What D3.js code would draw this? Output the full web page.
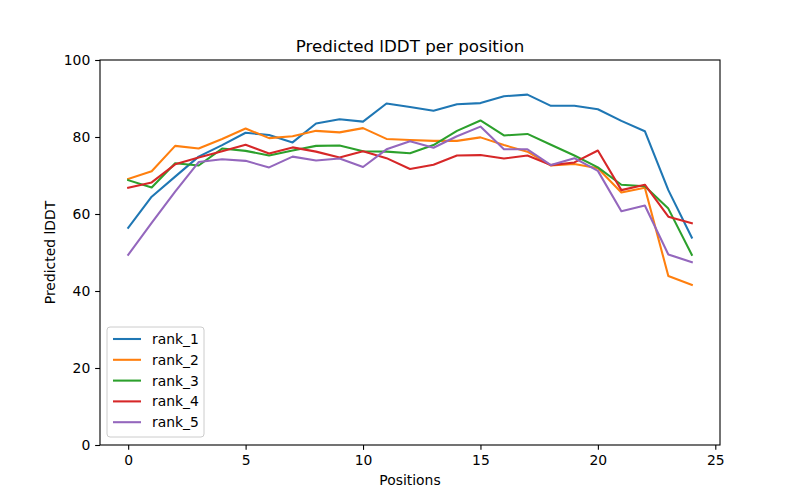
<!DOCTYPE html>
<html>
<head>
<meta charset="utf-8">
<script src="https://cdn.jsdelivr.net/npm/d3@7"></script>
<style>
 body{margin:0;background:#fff;}
 svg{font-family:"DejaVu Sans",sans-serif;}
</style>
</head>
<body>
<svg id="chart" width="800" height="500"></svg>
<script>
// ================= DATA =================
const positions=d3.range(0,25);
const seriesNames=["rank_1","rank_2","rank_3","rank_4","rank_5"];
const rank_1=[56.4,64.5,69.7,74.9,77.9,81.1,80.5,78.6,83.5,84.6,84.0,88.7,87.8,86.8,88.5,88.8,90.6,91.0,88.1,88.1,87.2,84.2,81.5,66.2,53.9];
const rank_2=[69.1,71.1,77.7,77.0,79.5,82.2,79.7,80.2,81.6,81.2,82.3,79.5,79.2,79.0,79.0,79.9,77.9,76.2,72.6,73.0,71.9,65.6,66.8,43.9,41.6];
const rank_3=[68.8,66.9,73.2,72.6,77.0,76.4,75.2,76.5,77.7,77.8,76.3,76.2,75.8,77.9,81.6,84.3,80.4,80.8,78.0,75.2,72.1,67.6,67.2,61.4,49.4];
const rank_4=[66.8,68.2,72.9,74.7,76.3,78.0,75.7,77.3,76.2,74.7,76.3,74.5,71.7,72.8,75.2,75.3,74.4,75.2,72.7,73.4,76.5,66.2,67.6,59.3,57.6];
const rank_5=[49.4,57.7,65.8,73.5,74.2,73.8,72.1,74.9,73.9,74.4,72.2,76.8,78.9,77.2,80.2,82.7,76.8,76.8,72.7,74.5,71.2,60.7,62.2,49.5,47.5];
const xTicks=[0,5,10,15,20,25];
const yTicks=[0,20,40,60,80,100];
const colors=["#1f77b4","#ff7f0e","#2ca02c","#d62728","#9467bd"];

// ================= CHART =================
const svg=d3.select("#chart");
const L=100,R=720,T=60,B=445;

const x=d3.scaleLinear().domain([-1.2,25.2]).range([L,R]);
const y=d3.scaleLinear().domain([0,100]).range([B,T]);

const all=[rank_1,rank_2,rank_3,rank_4,rank_5];
const line=d3.line().x((d,i)=>x(positions[i])).y(d=>y(d));

svg.selectAll("path.series")
 .data(all).enter().append("path")
 .attr("class","series")
 .attr("d",line)
 .attr("fill","none")
 .attr("stroke",(d,i)=>colors[i])
 .attr("stroke-width",2.08)
 .attr("stroke-linejoin","round")
 .attr("stroke-linecap","square");

// axes
const xAxis=svg.append("g").attr("transform",`translate(0,${B})`)
 .call(d3.axisBottom(x).tickValues(xTicks).tickSize(4.86).tickPadding(4.86).tickSizeOuter(0));
const yAxis=svg.append("g").attr("transform",`translate(${L},0)`)
 .call(d3.axisLeft(y).tickValues(yTicks).tickSize(4.86).tickPadding(4.86).tickSizeOuter(0));
[xAxis,yAxis].forEach(g=>{
 g.select(".domain").remove();
 g.selectAll("text").attr("font-family","DejaVu Sans").attr("font-size","13.9px").attr("fill","#000");
 g.selectAll("line").attr("stroke","#000").attr("stroke-width",1.1);
});

// frame
svg.append("rect").attr("x",L).attr("y",T).attr("width",R-L).attr("height",B-T)
 .attr("fill","none").attr("stroke","#000").attr("stroke-width",1.1);

// labels
svg.append("text").attr("x",(L+R)/2).attr("y",52).attr("text-anchor","middle")
 .attr("font-size","16.7px").text("Predicted lDDT per position");
svg.append("text").attr("x",(L+R)/2).attr("y",485).attr("text-anchor","middle")
 .attr("font-size","13.9px").text("Positions");
svg.append("text").attr("transform",`translate(55,${(T+B)/2}) rotate(-90)`).attr("text-anchor","middle")
 .attr("font-size","13.9px").text("Predicted lDDT");

// legend
const lg=svg.append("g").attr("transform","translate(107,327)");
lg.append("rect").attr("x",0).attr("y",0).attr("width",97).attr("height",110)
 .attr("rx",3).attr("fill","#fff").attr("fill-opacity",0.8).attr("stroke","#ccc");
const items=lg.selectAll("g.item").data(seriesNames).enter().append("g")
 .attr("transform",(d,i)=>`translate(0,${12+i*20.8})`);
items.append("line").attr("x1",6).attr("x2",34).attr("y1",0).attr("y2",0)
 .attr("stroke",(d,i)=>colors[i]).attr("stroke-width",2.08);
items.append("text").attr("x",45).attr("y",5).attr("font-size","13.9px").text(d=>d);
</script>
</body>
</html>
